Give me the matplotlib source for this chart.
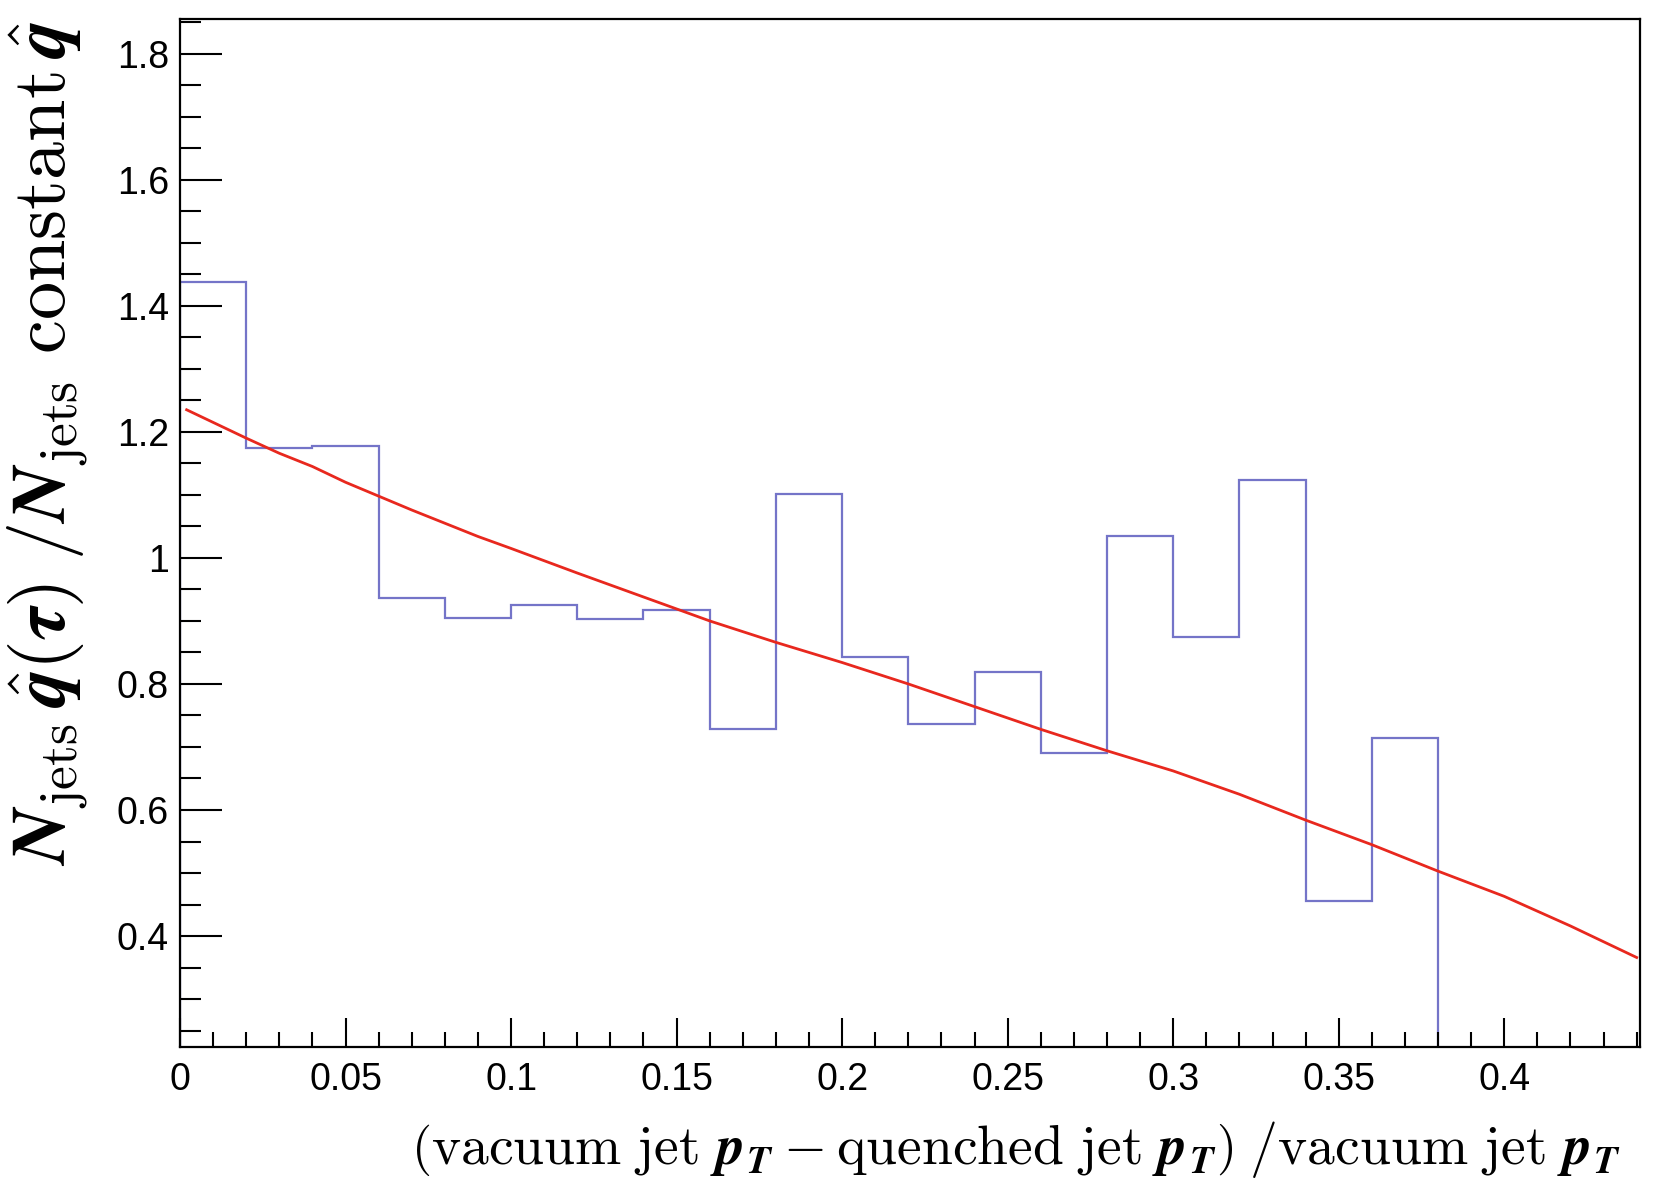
import numpy as np
import matplotlib
matplotlib.use("Agg")
import matplotlib.pyplot as plt
from matplotlib.ticker import MultipleLocator, FuncFormatter

plt.rcParams['mathtext.fontset'] = 'cm'
plt.rcParams['font.family'] = ['Liberation Sans', 'DejaVu Sans']

# histogram (bin edges and contents)
bin_edges = [0.00, 0.02, 0.04, 0.06, 0.08, 0.10, 0.12, 0.14, 0.16, 0.18, 0.20,
             0.22, 0.24, 0.26, 0.28, 0.30, 0.32, 0.34, 0.36, 0.38]
hist_values = [1.437, 1.175, 1.178, 0.937, 0.905, 0.925, 0.903, 0.918, 0.728, 1.102,
               0.842, 0.737, 0.819, 0.691, 1.035, 0.874, 1.124, 0.456, 0.715]

# fitted curve
curve_x = [0.002, 0.01, 0.02, 0.03, 0.04, 0.05, 0.06, 0.07, 0.08, 0.09, 0.10, 0.12,
           0.14, 0.16, 0.18, 0.20, 0.22, 0.24, 0.26, 0.28, 0.30, 0.32, 0.34, 0.36,
           0.38, 0.40, 0.42, 0.44]
curve_y = [1.235, 1.215, 1.190, 1.166, 1.145, 1.120, 1.098, 1.076, 1.055, 1.034, 1.015, 0.976,
           0.938, 0.900, 0.866, 0.834, 0.800, 0.764, 0.728, 0.694, 0.662, 0.625, 0.584, 0.545,
           0.503, 0.463, 0.416, 0.366]

fig = plt.figure(figsize=(16.61, 11.96), dpi=100)
ax = fig.add_axes([180/1661, 1-1047/1196, (1640-180)/1661, (1047-19)/1196])

ax.stairs(hist_values, bin_edges, color='#7474c8', linewidth=1.6, baseline=0)
ax.plot(curve_x, curve_y, color='#e8281e', linewidth=2.0)

ax.set_xlim(0, 0.441)
ax.set_ylim(0.224, 1.855)

ax.xaxis.set_major_locator(MultipleLocator(0.05))
ax.xaxis.set_minor_locator(MultipleLocator(0.01))
ax.yaxis.set_major_locator(MultipleLocator(0.2))
ax.yaxis.set_minor_locator(MultipleLocator(0.05))

ax.xaxis.set_major_formatter(FuncFormatter(lambda v, p: ('%g' % round(v, 3))))
ax.yaxis.set_major_formatter(FuncFormatter(lambda v, p: ('%g' % round(v, 3))))

ax.tick_params(axis='both', which='both', direction='in', top=False, right=False,
               width=1.5, labelsize=27, colors='black')
ax.tick_params(axis='y', which='major', length=30, pad=8)
ax.tick_params(axis='y', which='minor', length=15)
ax.tick_params(axis='x', which='major', length=21, pad=11)
ax.tick_params(axis='x', which='minor', length=11)
for s in ax.spines.values():
    s.set_linewidth(1.6)

ylabel = (r'$\boldsymbol{N}_{\mathrm{jets}}\,\hat{\boldsymbol{q}}(\boldsymbol{\tau})\;'
          r'/\boldsymbol{N}_{\mathrm{jets}}\ \mathrm{constant}\,\hat{\boldsymbol{q}}$')
xlabel = (r'$\left(\mathrm{vacuum\ jet}\ \boldsymbol{p}_{\boldsymbol{T}} - \mathrm{quenched\ jet}\ '
          r'\boldsymbol{p}_{\boldsymbol{T}}\right)\;/\mathrm{vacuum\ jet}\ \boldsymbol{p}_{\boldsymbol{T}}$')

fig.text(48/1661, 1-20/1196, ylabel, rotation=90, ha='center', va='top', fontsize=55)
fig.text(1621/1661, 1-1149/1196, xlabel, ha='right', va='center', fontsize=40)

fig.savefig('out.png', dpi=100)
